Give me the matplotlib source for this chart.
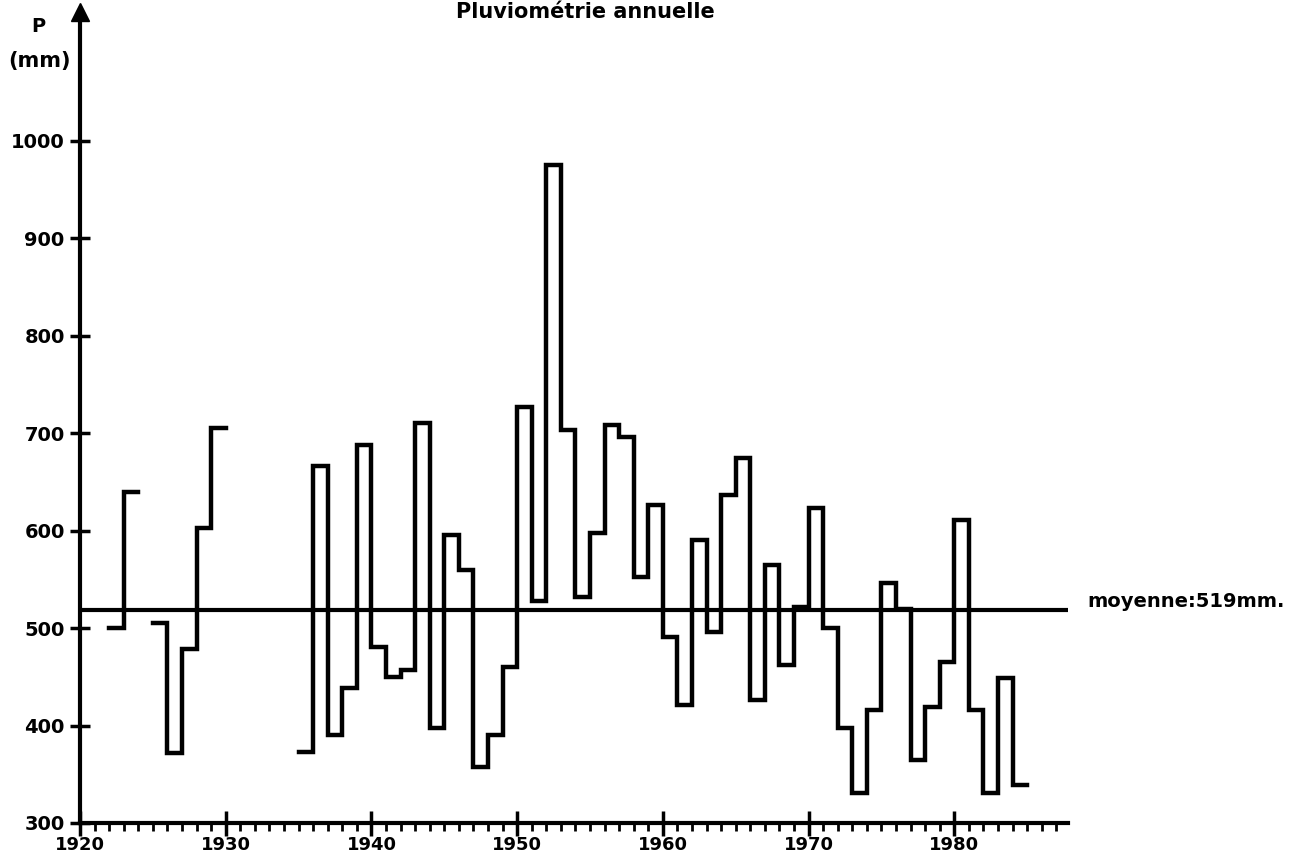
import numpy as np
import matplotlib
matplotlib.use("Agg")
import matplotlib.pyplot as plt

# Pluviométrie annuelle (mm), relevés
annees_1 = [1922, 1923]
pluie_1 = [500, 640]

annees_2 = [1925, 1926, 1927, 1928, 1929]
pluie_2 = [505, 372, 478, 603, 705]

annees_3 = list(range(1935, 1985))
pluie_3 = [373, 666, 390, 438, 688, 481, 450, 457, 710, 397,
           595, 560, 357, 390, 460, 727, 528, 975, 703, 532,
           597, 708, 696, 552, 626, 491, 421, 590, 496, 636,
           674, 426, 565, 462, 522, 623, 500, 397, 331, 416,
           546, 520, 365, 419, 465, 611, 416, 331, 449, 339]

moyenne = 519
yticks = [300, 400, 500, 600, 700, 800, 900, 1000]
xticks = [1920, 1930, 1940, 1950, 1960, 1970, 1980]

plt.rcParams['font.family'] = ['DejaVu Sans']
plt.rcParams['font.weight'] = 'bold'

W, H = 1298, 858
fig = plt.figure(figsize=(W / 100, H / 100), dpi=100)
ax = fig.add_axes([80 / W, 35 / H, 988 / W, 811 / H])

# Séries en escalier (une marche par année)
for annees, pluie in [(annees_1, pluie_1), (annees_2, pluie_2), (annees_3, pluie_3)]:
    x = np.append(annees, annees[-1] + 1)
    y = np.append(pluie, pluie[-1])
    ax.step(x, y, where='post', color='black', linewidth=3.2,
            solid_joinstyle='miter')

# Moyenne
ax.axhline(moyenne, color='black', linewidth=3)
ax.annotate(f"moyenne:{moyenne}mm.", xy=(1.02, moyenne), xycoords=ax.get_yaxis_transform(),
            xytext=(0, 6), textcoords='offset points',
            ha='left', va='center', fontsize=14, fontweight='bold')

ax.set_xlim(1920, 1987.8)
ax.set_ylim(300, 1132)

for s in ['top', 'right']:
    ax.spines[s].set_visible(False)
for s in ['left', 'bottom']:
    ax.spines[s].set_linewidth(3)

# Flèche en haut de l'axe des ordonnées
ax.plot(0, 1, marker='^', color='black', markersize=13, transform=ax.transAxes,
        clip_on=False)

ax.set_yticks(yticks)
ax.set_xticks(xticks)
ax.set_xticks(range(1920, 1988), minor=True)
ax.tick_params(axis='y', direction='inout', length=14, width=2.5, labelsize=14, pad=4)
ax.tick_params(axis='x', which='major', direction='inout', length=18, width=2.5,
               labelsize=13, pad=0)
ax.tick_params(axis='x', which='minor', direction='out', length=6, width=2)

for lab in ax.get_xticklabels() + ax.get_yticklabels():
    lab.set_fontweight('bold')

fig.text(38 / W, 1 - 26 / H, "P", ha='center', va='center', fontsize=14, fontweight='bold')
fig.text(39 / W, 1 - 61 / H, "(mm)", ha='center', va='center', fontsize=15, fontweight='bold')
fig.text(585 / W, 1 - 12 / H, "Pluviométrie annuelle", ha='center', va='center',
         fontsize=15, fontweight='bold')

fig.savefig("out.png", dpi=100, facecolor='white')
